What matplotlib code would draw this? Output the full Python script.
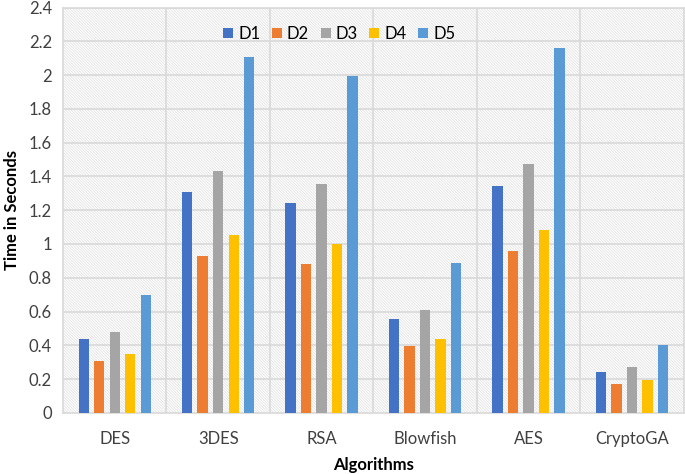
import matplotlib.pyplot as plt
import numpy as np
from matplotlib.patches import Rectangle

algorithms = ['DES', '3DES', 'RSA', 'Blowfish', 'AES', 'CryptoGA']
series = ['D1', 'D2', 'D3', 'D4', 'D5']
d1 = [0.435, 1.306, 1.24, 0.553, 1.346, 0.24]
d2 = [0.306, 0.93, 0.88, 0.394, 0.957, 0.17]
d3 = [0.476, 1.435, 1.357, 0.61, 1.476, 0.27]
d4 = [0.347, 1.053, 1.0, 0.44, 1.082, 0.194]
d5 = [0.70, 2.106, 1.994, 0.89, 2.16, 0.40]
colors = ['#4472C4', '#ED7D31', '#A5A5A5', '#FFC000', '#5B9BD5']

plt.rcParams['font.family'] = ['Lato', 'DejaVu Sans']
plt.rcParams['hatch.linewidth'] = 0.5

fig = plt.figure(figsize=(6.85, 4.74), dpi=100)
ax = fig.add_axes([0.092, 0.129, 0.906, 0.855])

# hatched plot area background
ax.add_patch(Rectangle((0, 0), 1, 1, transform=ax.transAxes, facecolor='white',
                       edgecolor='#dedede', hatch='\\' * 12, linewidth=0, zorder=0))

x = np.arange(len(algorithms))
w = 0.1
step = 0.15
for i, (name, vals) in enumerate(zip(series, [d1, d2, d3, d4, d5])):
    ax.bar(x + (i - 2) * step, vals, width=w, color=colors[i], label=name, zorder=3)

ax.set_xlim(-0.5, 5.5)
ax.set_ylim(0, 2.4)
ax.set_yticks(np.arange(0, 2.41, 0.2))
ax.set_yticklabels(['0', '0.2', '0.4', '0.6', '0.8', '1', '1.2', '1.4', '1.6', '1.8', '2', '2.2', '2.4'])
ax.set_xticks(x)
ax.set_xticklabels(algorithms)
ax.tick_params(length=0, labelsize=12, colors='#404040', pad=8)
ax.tick_params(axis='x', pad=13)

for yv in np.arange(0.2, 2.41, 0.2):
    ax.axhline(yv, color='#d9d9d9', lw=1.2, zorder=1)
for xv in np.arange(0.5, 5.5, 1):
    ax.axvline(xv, color='#d9d9d9', lw=1.2, zorder=1)

for s in ax.spines.values():
    s.set_color('#d9d9d9')
    s.set_linewidth(1.2)

ax.set_ylabel('Time in Seconds', fontsize=12, fontweight='bold', labelpad=6)
ax.set_xlabel('Algorithms', fontsize=12, fontweight='bold', labelpad=7)

ax.legend(loc='center', bbox_to_anchor=(0.445, 0.935), ncol=5, frameon=False,
          handlelength=0.6, handleheight=0.6, columnspacing=0.7, handletextpad=0.3,
          fontsize=12)

fig.savefig('out.png', dpi=100)
